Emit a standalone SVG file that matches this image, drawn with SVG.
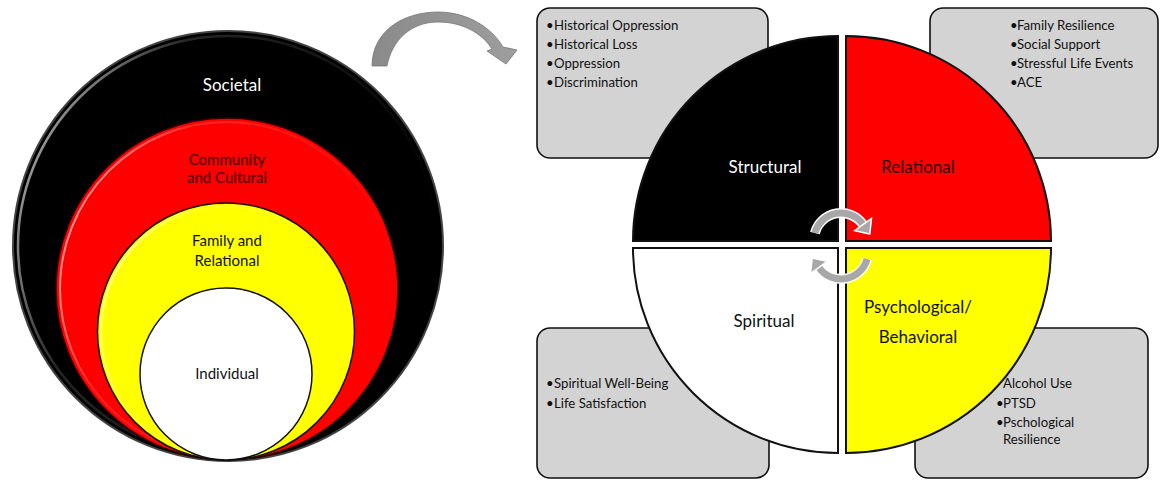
<svg xmlns="http://www.w3.org/2000/svg" width="1160" height="480" viewBox="0 0 1160 480">
<style>
text{font-family:Lato,"Open Sans","Liberation Sans",sans-serif}
.lbl{font-size:17px;text-anchor:middle}
.ring{font-size:15px;text-anchor:middle}
.box{fill:#d3d3d3;stroke:#111;stroke-width:1.6}
.bt{font-size:13.2px;fill:#111}
.q{stroke:#111;stroke-width:2}
.rot-o{fill:none;stroke:#fff;stroke-width:10}
.rot{fill:none;stroke:#a8a8a8;stroke-width:7}
</style>
<defs>
<linearGradient id="hl" x1="0" y1="0" x2="1" y2="0.4">
<stop offset="0" stop-color="#fff" stop-opacity="0.85"/>
<stop offset="0.35" stop-color="#fff" stop-opacity="0.15"/>
<stop offset="1" stop-color="#fff" stop-opacity="0"/>
</linearGradient>
<linearGradient id="arr" x1="0" y1="0" x2="1" y2="0">
<stop offset="0" stop-color="#8a8a8a"/>
<stop offset="1" stop-color="#9e9e9e"/>
</linearGradient>
</defs>

<g id="nested-circles">
<g id="societal">
<circle cx="228" cy="246" r="215" fill="#000" stroke="#444" stroke-width="2"/>
<circle cx="228" cy="246" r="210" fill="none" stroke="url(#hl)" stroke-width="2.5"/>
<text class="lbl" x="232" y="91" fill="#fff" font-size="18">Societal</text>
</g>
<g id="community">
<circle cx="227" cy="289" r="171" fill="#ff0000" stroke="#300" stroke-width="1.5"/>
<circle cx="227" cy="289" r="167" fill="none" stroke="url(#hl)" stroke-width="2"/>
<text class="ring" x="227" y="165" fill="#5a0000" stroke="#5a0000" stroke-width="0.3">Community</text>
<text class="ring" x="227" y="183" fill="#5a0000" stroke="#5a0000" stroke-width="0.3">and Cultural</text>
</g>
<g id="family">
<circle cx="226" cy="331.5" r="128.5" fill="#ffff00" stroke="#111" stroke-width="1.5"/>
<circle cx="226" cy="331.5" r="125" fill="none" stroke="url(#hl)" stroke-width="2"/>
<text class="ring" x="227" y="246" fill="#111">Family and</text>
<text class="ring" x="227" y="266" fill="#111">Relational</text>
</g>
<g id="individual">
<circle cx="226" cy="374" r="86" fill="#fff" stroke="#111" stroke-width="1.5"/>
<text class="ring" x="227" y="379" fill="#111">Individual</text>
</g>
</g>

<g id="connectors">
<path id="big-arrow" d="M372 66 C372 32 402 12 438 12 C468 12 492 28 503 47 L517 50 L506 64 L487 51 L492 49 C482 33 462 22 438 22 C411 22 392 40 387 66 Z" fill="url(#arr)" stroke="#777" stroke-width="0.8"/>
</g>

<g id="box-structural">
<rect class="box" x="537" y="8" width="231" height="150" rx="13"/>
<text class="bt" y="30"><tspan x="546">•</tspan><tspan x="554">Historical Oppression</tspan></text>
<text class="bt" y="49"><tspan x="546">•</tspan><tspan x="554">Historical Loss</tspan></text>
<text class="bt" y="68"><tspan x="546">•</tspan><tspan x="554">Oppression</tspan></text>
<text class="bt" y="87"><tspan x="546">•</tspan><tspan x="554">Discrimination</tspan></text>
</g>
<g id="box-relational">
<rect class="box" x="930" y="8" width="228" height="150" rx="13"/>
<text class="bt" y="30"><tspan x="1010">•</tspan><tspan x="1017">Family Resilience</tspan></text>
<text class="bt" y="49"><tspan x="1010">•</tspan><tspan x="1017">Social Support</tspan></text>
<text class="bt" y="68"><tspan x="1010">•</tspan><tspan x="1017">Stressful Life Events</tspan></text>
<text class="bt" y="87"><tspan x="1010">•</tspan><tspan x="1017">ACE</tspan></text>
</g>
<g id="box-spiritual">
<rect class="box" x="537" y="328" width="232" height="150" rx="13"/>
<text class="bt" y="388"><tspan x="546">•</tspan><tspan x="554">Spiritual Well-Being</tspan></text>
<text class="bt" y="408"><tspan x="546">•</tspan><tspan x="554">Life Satisfaction</tspan></text>
</g>
<g id="box-psych">
<rect class="box" x="915" y="328" width="233" height="150" rx="13"/>
<text class="bt" x="1003" y="388">Alcohol Use</text>
<text class="bt" y="408"><tspan x="996">•</tspan><tspan x="1003">PTSD</tspan></text>
<text class="bt" y="427"><tspan x="996">•</tspan><tspan x="1003">Pschological</tspan></text>
<text class="bt" y="444"><tspan x="1003">Resilience</tspan></text>
</g>

<g id="q-structural">
<path class="q" d="M838 241 L633 241 A205 205 0 0 1 838 36 Z" fill="#000"/>
<text class="lbl" x="765" y="173" fill="#fff">Structural</text>
</g>
<g id="q-relational">
<path class="q" d="M846 241 L846 36 A205 205 0 0 1 1051 241 Z" fill="#ff0000"/>
<text class="lbl" x="918" y="173" fill="#2a0000">Relational</text>
</g>
<g id="q-spiritual">
<path class="q" d="M838 248 L838 453 A205 205 0 0 1 633 248 Z" fill="#fff"/>
<text class="lbl" x="764" y="327" fill="#111">Spiritual</text>
</g>
<g id="q-psych">
<path class="q" d="M846 248 L1051 248 A205 205 0 0 1 846 453 Z" fill="#ffff00"/>
<text class="lbl" x="918" y="313" fill="#111">Psychological/</text>
<text class="lbl" x="918" y="343" fill="#111">Behavioral</text>
</g>

<g id="cycle-arrows">
<path class="rot-o" d="M814.9 233 A27 27 0 0 1 863.1 224.5"/>
<path class="rot-o" d="M867.1 259 A27 27 0 0 1 818.9 267.5"/>
<path class="rot" d="M814.9 233 A27 27 0 0 1 863.1 224.5"/>
<path class="rot" d="M867.1 259 A27 27 0 0 1 818.9 267.5"/>
<polygon points="871.5,218.3 854.7,230.7 869.8,234" fill="#a8a8a8" stroke="#fff" stroke-width="1.5"/>
<polygon points="827.3,261.3 810.5,273.7 812.2,258" fill="#a8a8a8" stroke="#fff" stroke-width="1.5"/>
</g>
</svg>
